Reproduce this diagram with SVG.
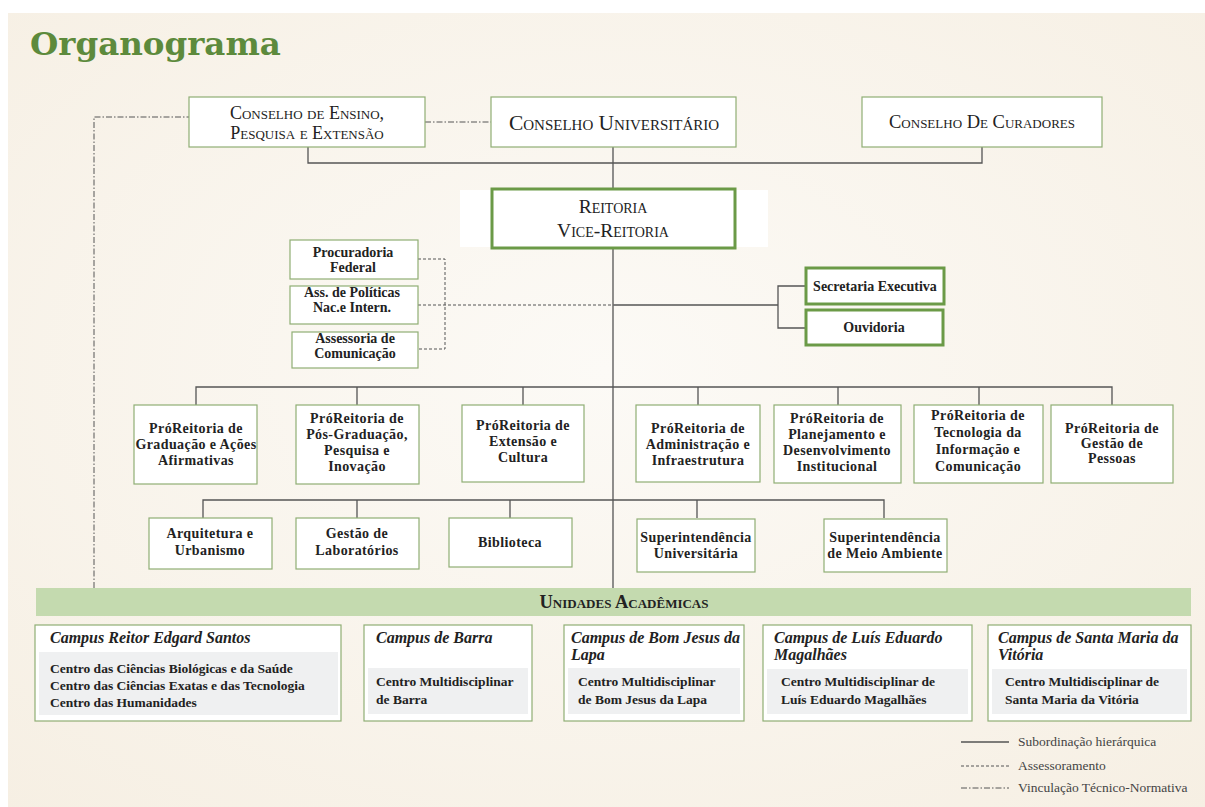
<svg xmlns="http://www.w3.org/2000/svg" width="1205" height="807" viewBox="0 0 1205 807">
<defs>
<radialGradient id="bg" cx="0.5" cy="0.45" r="0.75">
<stop offset="0" stop-color="#fcfaf6"/>
<stop offset="1" stop-color="#f6efe3"/>
</radialGradient>
</defs>
<style>
.box{fill:#fff;stroke:#8fae74;stroke-width:1.2}
.tbox{fill:#fff;stroke:#6b9a47;stroke-width:3}
.ln{stroke:#555;stroke-width:1.3;fill:none}
.dash{stroke:#555;stroke-width:1;stroke-dasharray:3 2;fill:none}
.dd{stroke:#555;stroke-width:1;stroke-dasharray:6 2 1.5 2;fill:none}
.band{fill:#eff0f1}
.sc{font-family:"Liberation Serif",serif;font-variant:small-caps;fill:#222;text-anchor:middle}
.b{font-family:"Liberation Serif",serif;font-weight:bold;font-size:14px;fill:#222;text-anchor:middle}
.p{font-family:"Liberation Serif",serif;font-weight:bold;font-size:14px;letter-spacing:0.4px;fill:#222;text-anchor:middle}
.ct{font-family:"Liberation Serif",serif;font-weight:bold;font-style:italic;font-size:16px;fill:#222}
.cl{font-family:"Liberation Serif",serif;font-weight:bold;font-size:13.5px;fill:#222}
.lg{font-family:"Liberation Serif",serif;font-size:13.5px;fill:#444}
</style>
<rect x="0" y="0" width="1205" height="807" fill="#fff"/>
<rect x="8" y="13" width="1197" height="794" fill="url(#bg)"/>
<text x="30" y="55" font-family="DejaVu Serif, serif" font-weight="bold" font-size="32.5" fill="#5d8a3c">Organograma</text>

<g id="connectors">
<path class="ln" d="M308 147V163H982V147M613 147V189M613 248V588"/>
<path class="ln" d="M196 405V387H1112V405M357 387V405M523 387V405M698 387V405M838 387V405M979 387V405"/>
<path class="ln" d="M203 518V500H884V518M357 500V518M510 500V518M697 500V518"/>
<path class="ln" d="M614 305H778M806 286H778V328H806"/>
<path class="dash" d="M418 259H445V349H418M418 305H614"/>
<path class="dd" d="M94 588V117H189M425 122H491"/>
</g>

<g id="cepe"><rect class="box" x="189" y="97" width="236" height="50"/>
<text class="sc" x="307" y="119" font-size="18">Conselho de Ensino,</text>
<text class="sc" x="307" y="139" font-size="18">Pesquisa e Extensão</text></g>
<g id="consuni"><rect class="box" x="491" y="97" width="245" height="50"/>
<text class="sc" x="614" y="130" font-size="21.5">Conselho Universitário</text></g>
<g id="curadores"><rect class="box" x="862" y="97" width="240" height="50"/>
<text class="sc" x="982" y="128" font-size="18.5">Conselho De Curadores</text></g>
<g id="reitoria"><rect x="460" y="190" width="308" height="57" fill="#fff"/>
<rect class="tbox" x="492" y="189" width="243" height="59"/>
<text class="sc" x="613" y="213" font-size="19.5">Reitoria</text>
<text class="sc" x="613" y="237" font-size="19.5">Vice-Reitoria</text></g>

<g id="procuradoria"><rect class="box" x="290" y="240" width="128" height="39"/>
<text class="b" x="353" y="257">Procuradoria</text><text class="b" x="353" y="272">Federal</text></g>
<g id="ass-politicas"><rect class="box" x="290" y="286" width="128" height="38"/>
<text class="b" x="352" y="297">Ass. de Políticas</text><text class="b" x="352" y="312">Nac.e Intern.</text></g>
<g id="ass-comunicacao"><rect class="box" x="292" y="332" width="126" height="36"/>
<text class="b" x="355" y="343">Assessoria de</text><text class="b" x="355" y="358">Comunicação</text></g>
<g id="secretaria"><rect class="tbox" x="806" y="268" width="138" height="36"/>
<text class="b" x="875" y="291">Secretaria Executiva</text></g>
<g id="ouvidoria"><rect class="tbox" x="806" y="310" width="137" height="35"/>
<text class="b" x="874" y="332">Ouvidoria</text></g>

<g id="prograd"><rect class="box" x="134" y="405" width="123" height="79"/>
<text class="p" x="196" y="433">PróReitoria de</text><text class="p" x="196" y="449">Graduação e Ações</text><text class="p" x="196" y="465">Afirmativas</text></g>
<g id="propg"><rect class="box" x="296" y="405" width="123" height="79"/>
<text class="p" x="357" y="423">PróReitoria de</text><text class="p" x="357" y="439">Pós-Graduação,</text><text class="p" x="357" y="455">Pesquisa e</text><text class="p" x="357" y="471">Inovação</text></g>
<g id="proext"><rect class="box" x="462" y="405" width="122" height="77"/>
<text class="p" x="523" y="430">PróReitoria de</text><text class="p" x="523" y="446">Extensão e</text><text class="p" x="523" y="462">Cultura</text></g>
<g id="proad"><rect class="box" x="636" y="405" width="124" height="77"/>
<text class="p" x="698" y="433">PróReitoria de</text><text class="p" x="698" y="449">Administração e</text><text class="p" x="698" y="465">Infraestrutura</text></g>
<g id="proplan"><rect class="box" x="774" y="405" width="127" height="78"/>
<text class="p" x="837" y="423">PróReitoria de</text><text class="p" x="837" y="439">Planejamento e</text><text class="p" x="837" y="455">Desenvolvimento</text><text class="p" x="837" y="471">Institucional</text></g>
<g id="proti"><rect class="box" x="914" y="405" width="129" height="78"/>
<text class="p" x="978" y="420">PróReitoria de</text><text class="p" x="978" y="437">Tecnologia da</text><text class="p" x="978" y="454">Informação e</text><text class="p" x="978" y="471">Comunicação</text></g>
<g id="progp"><rect class="box" x="1051" y="405" width="122" height="78"/>
<text class="p" x="1112" y="433">PróReitoria de</text><text class="p" x="1112" y="448">Gestão de</text><text class="p" x="1112" y="463">Pessoas</text></g>

<g id="arquitetura"><rect class="box" x="149" y="518" width="123" height="51"/>
<text class="p" x="210" y="538">Arquitetura e</text><text class="p" x="210" y="555">Urbanismo</text></g>
<g id="laboratorios"><rect class="box" x="296" y="518" width="123" height="51"/>
<text class="p" x="357" y="538">Gestão de</text><text class="p" x="357" y="555">Laboratórios</text></g>
<g id="biblioteca"><rect class="box" x="449" y="518" width="123" height="49"/>
<text class="p" x="510" y="547">Biblioteca</text></g>
<g id="sup-univ"><rect class="box" x="637" y="519" width="118" height="53"/>
<text class="p" x="696" y="542">Superintendência</text><text class="p" x="696" y="558">Universitária</text></g>
<g id="sup-meio"><rect class="box" x="824" y="519" width="123" height="53"/>
<text class="p" x="885" y="542">Superintendência</text><text class="p" x="885" y="558">de Meio Ambiente</text></g>

<g id="unidades"><rect x="36" y="588" width="1155" height="28" fill="#c4daaf"/>
<text class="sc" x="624" y="608" font-size="18.5" font-weight="bold" fill="#333">Unidades Acadêmicas</text></g>

<g id="campus-salvador"><rect class="box" x="35" y="625" width="306" height="96"/>
<rect class="band" x="39" y="652" width="299" height="63"/>
<text class="ct" x="50" y="643">Campus Reitor Edgard Santos</text>
<text class="cl" x="50" y="673">Centro das Ciências Biológicas e da Saúde</text>
<text class="cl" x="50" y="690">Centro das Ciências Exatas e  das Tecnologia</text>
<text class="cl" x="50" y="707">Centro das Humanidades</text></g>
<g id="campus-barra"><rect class="box" x="364" y="625" width="168" height="96"/>
<rect class="band" x="368" y="668" width="160" height="46"/>
<text class="ct" x="376" y="643">Campus de Barra</text>
<text class="cl" x="376" y="686">Centro Multidisciplinar</text>
<text class="cl" x="376" y="704">de Barra</text></g>
<g id="campus-lapa"><rect class="box" x="564" y="625" width="180" height="96"/>
<rect class="band" x="568" y="668" width="172" height="46"/>
<text class="ct" x="571" y="643">Campus de Bom Jesus da</text>
<text class="ct" x="571" y="660">Lapa</text>
<text class="cl" x="578" y="686">Centro Multidisciplinar</text>
<text class="cl" x="578" y="704">de Bom Jesus da Lapa</text></g>
<g id="campus-lem"><rect class="box" x="763" y="625" width="209" height="96"/>
<rect class="band" x="767" y="669" width="201" height="45"/>
<text class="ct" x="774" y="643">Campus de Luís Eduardo</text>
<text class="ct" x="774" y="660">Magalhães</text>
<text class="cl" x="781" y="686">Centro Multidisciplinar de</text>
<text class="cl" x="781" y="704">Luís Eduardo Magalhães</text></g>
<g id="campus-smv"><rect class="box" x="988" y="625" width="203" height="96"/>
<rect class="band" x="992" y="669" width="195" height="45"/>
<text class="ct" x="998" y="643">Campus de Santa Maria da</text>
<text class="ct" x="998" y="660">Vitória</text>
<text class="cl" x="1005" y="686">Centro Multidisciplinar de</text>
<text class="cl" x="1005" y="704">Santa Maria da Vitória</text></g>

<g id="legenda">
<line class="ln" x1="961" y1="742" x2="1009" y2="742"/>
<line class="dash" x1="961" y1="766" x2="1009" y2="766"/>
<line class="dd" x1="961" y1="788" x2="1009" y2="788"/>
<text class="lg" x="1018" y="746">Subordinação hierárquica</text>
<text class="lg" x="1018" y="770">Assessoramento</text>
<text class="lg" x="1018" y="792">Vinculação Técnico-Normativa</text>
</g>
</svg>
